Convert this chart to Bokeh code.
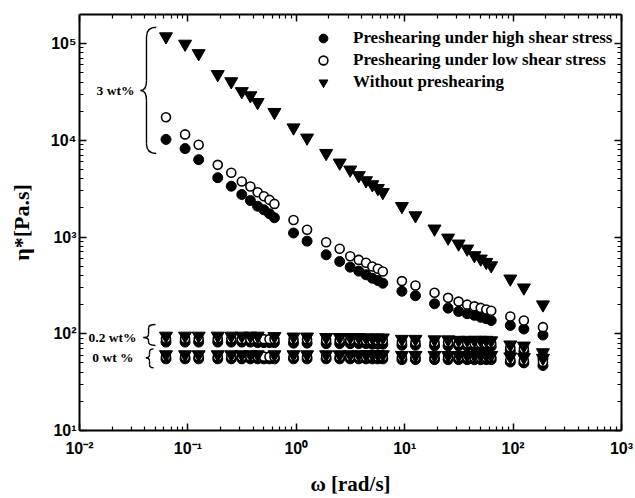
import math
from bokeh.plotting import figure
from bokeh.models import (ColumnDataSource, FixedTicker, LogAxis, CustomJSTickFormatter,
                          Legend, LegendItem, Label)
from bokeh.embed import file_html
from bokeh.resources import INLINE

# ---------------- data ----------------
# angular frequency (rad/s) for circle series
w = [0.0628, 0.0942, 0.1257, 0.1885, 0.2513, 0.3142, 0.3770, 0.4398, 0.5027, 0.5655, 0.6283,
     0.9425, 1.257, 1.885, 2.513, 3.142, 3.770, 4.398, 5.027, 5.655, 6.283,
     9.425, 12.57, 18.85, 25.13, 31.42, 37.70, 43.98, 50.27, 56.55, 62.83,
     94.25, 125.7, 188.5]
# angular frequency for triangle series (two points missing in first decade)
w_tri = [0.0628, 0.0942, 0.1257, 0.1885, 0.2513, 0.3142, 0.3770, 0.4398, 0.6283,
         0.9425, 1.257, 1.885, 2.513, 3.142, 3.770, 4.398, 5.027, 5.655, 6.283,
         9.425, 12.57, 18.85, 25.13, 31.42, 37.70, 43.98, 50.27, 56.55, 62.83,
         94.25, 125.7, 188.5]

# 3 wt%
high_3 = [10200, 8200, 6300, 4100, 3350, 2750, 2380, 2080, 1910, 1740, 1580,
          1100, 906, 655, 558, 488, 444, 407, 375, 355, 333,
          275, 247, 204, 184, 170, 161, 155, 148, 143, 137,
          122, 112, 97]
low_3 = [17300, 11500, 9000, 5570, 4610, 3750, 3330, 2900, 2640, 2420, 2200,
         1500, 1190, 883, 755, 633, 580, 541, 495, 469, 440,
         350, 315, 265, 235, 215, 200, 192, 185, 178, 173,
         151, 137, 117]
none_3 = [118000, 99000, 79000, 48000, 40500, 32000, 29000, 24700, 19500,
          13500, 10600, 7350, 5850, 4950, 4330, 3840, 3490, 3190, 2900,
          2080, 1667, 1216, 980, 851, 755, 645, 595, 550, 507,
          370, 299, 200]

# 0.2 wt%
high_02 = [82, 82, 82, 82, 82, 82, 82, 81, 81, 81, 81,
           80, 80, 79, 79, 79, 79, 79, 78, 78, 78,
           76, 76, 75, 75, 75, 74, 74, 74, 74, 74,
           67, 65, 55]
low_02 = [89, 89, 89, 89, 89, 88, 88, 88, 88, 88, 88,
          87, 87, 86, 86, 86, 86, 85, 85, 85, 85,
          82, 82, 81, 81, 80, 80, 80, 80, 80, 80,
          72, 70, 59]
none_02 = [95, 95, 95, 95, 95, 95, 95, 95, 94,
           93, 93, 92, 92, 92, 92, 91, 91, 91, 91,
           88, 88, 87, 87, 86, 86, 86, 86, 86, 85,
           77, 75, 64]

# 0 wt%
high_0 = [55, 55, 55, 55, 55, 55, 55, 55, 55, 55, 55,
          55, 55, 55, 55, 55, 55, 55, 55, 55, 55,
          54, 54, 54, 54, 54, 54, 54, 54, 54, 54,
          51, 50, 47]
low_0 = [58, 58, 58, 58, 58, 58, 58, 58, 58, 58, 58,
         58, 58, 58, 58, 58, 58, 58, 58, 58, 58,
         57, 57, 57, 57, 57, 57, 57, 57, 57, 57,
         54, 53, 51]
none_0 = [61, 61, 61, 61, 61, 61, 61, 61, 61,
          61, 61, 61, 61, 61, 61, 61, 61, 61, 61,
          60, 60, 60, 60, 60, 60, 60, 60, 60, 60,
          58, 57, 56]

series_labels = ["Preshearing under high shear stress",
                 "Preshearing under low shear stress",
                 "Without preshearing"]
conc_labels = ["3 wt%", "0.2 wt%", "0 wt %"]
x_title = "ω [rad/s]"
y_title = "η*[Pa.s]"

x_major = [1e-2, 1e-1, 1e0, 1e1, 1e2, 1e3]
y_major = [1e1, 1e2, 1e3, 1e4, 1e5]

# ---------------- figure ----------------
SERIF = "Liberation Serif"
SANS = "Liberation Sans"

p = figure(width=635, height=498, x_axis_type="log", y_axis_type="log",
           x_range=(1e-2, 1e3), y_range=(1e1, 1.995e5),
           output_backend="svg", toolbar_location=None,
           min_border_left=79, min_border_right=14, min_border_top=14, min_border_bottom=68)
p.xgrid.visible = False
p.ygrid.visible = False
p.outline_line_color = None
p.background_fill_color = "white"
p.border_fill_color = "white"

x_minor = [m * 10 ** e for e in range(-2, 3) for m in range(2, 10)]
y_minor = [m * 10 ** e for e in range(1, 6) for m in range(2, 10) if m * 10 ** e < 2e5]

sup_code = """
const sup = {'-':'\u207b','0':'\u2070','1':'\u00b9','2':'\u00b2','3':'\u00b3','4':'\u2074',
             '5':'\u2075','6':'\u2076','7':'\u2077','8':'\u2078','9':'\u2079'};
const e = Math.round(Math.log10(tick));
return '10' + String(e).split('').map(c => sup[c]).join('');
"""
blank = CustomJSTickFormatter(code="return '';")


def style_axis(ax, ticks, minor, labels=True):
    ax.ticker = FixedTicker(ticks=ticks, minor_ticks=minor)
    ax.axis_line_width = 2
    ax.axis_line_color = "black"
    ax.major_tick_in = 7
    ax.major_tick_out = 0
    ax.minor_tick_in = 4
    ax.minor_tick_out = 0
    ax.major_tick_line_width = 1.5
    ax.minor_tick_line_width = 1.2
    ax.major_tick_line_color = "black"
    ax.minor_tick_line_color = "black"
    if labels:
        ax.formatter = CustomJSTickFormatter(code=sup_code)
        ax.major_label_text_font = SANS
        ax.major_label_text_font_style = "bold"
        ax.major_label_text_font_size = "16px"
        ax.major_label_text_color = "black"
        ax.axis_label_text_font = SERIF
        ax.axis_label_text_font_style = "bold"
        ax.axis_label_text_color = "black"
    else:
        ax.formatter = blank
        ax.major_label_text_font_size = "0px"
        ax.major_label_standoff = 0


style_axis(p.xaxis[0], x_major, x_minor)
style_axis(p.yaxis[0], y_major, y_minor)
p.xaxis[0].major_label_standoff = 9
p.yaxis[0].major_label_standoff = 3
p.xaxis[0].axis_label = x_title
p.xaxis[0].axis_label_text_font_size = "21px"
p.xaxis[0].axis_label_standoff = 12
p.yaxis[0].axis_label = y_title
p.yaxis[0].axis_label_text_font_size = "22px"
p.yaxis[0].axis_label_standoff = 14

top_ax = LogAxis()
style_axis(top_ax, x_major, x_minor, labels=False)
p.add_layout(top_ax, "above")
right_ax = LogAxis()
style_axis(right_ax, y_major, y_minor, labels=False)
p.add_layout(right_ax, "right")

# ---------------- markers ----------------
src_high = ColumnDataSource(dict(x=w * 3, y=high_3 + high_02 + high_0))
src_low = ColumnDataSource(dict(x=w * 3, y=low_3 + low_02 + low_0))
src_none = ColumnDataSource(dict(x=w_tri * 3, y=none_3 + none_02 + none_0))

r_high = p.scatter("x", "y", source=src_high, marker="circle", size=10,
                   fill_color="black", line_color="black", line_width=1)
r_low = p.scatter("x", "y", source=src_low, marker="circle", size=9,
                  fill_color="white", line_color="black", line_width=1.6)
r_none = p.scatter("x", "y", source=src_none, marker="inverted_triangle", size=13,
                   fill_color="black", line_color="black", line_width=1)

legend = Legend(items=[LegendItem(label=series_labels[0], renderers=[r_high]),
                       LegendItem(label=series_labels[1], renderers=[r_low]),
                       LegendItem(label=series_labels[2], renderers=[r_none])],
                location=(232, 337), orientation="vertical",
                glyph_width=24, glyph_height=22, label_height=22, label_standoff=18,
                spacing=0, padding=0, margin=0,
                border_line_color=None, background_fill_alpha=0,
                label_text_font=SERIF, label_text_font_style="bold",
                label_text_font_size="17px", label_text_color="black")
p.add_layout(legend)

# ---------------- braces (log10 coordinates) ----------------
# each: x_end, x_bar, x_tip, y_top, y_mid, y_bot, r
braces = [(-1.292, -1.382, -1.437, 5.168, 4.514, 3.863, 0.10),
          (-1.299, -1.363, -1.410, 2.096, 1.961, 1.879, 0.035),
          (-1.317, -1.354, -1.388, 1.844, 1.751, 1.648, 0.035)]
qx0, qy0, qx1, qy1, qcx, qcy = [], [], [], [], [], []
sx0, sy0, sx1, sy1 = [], [], [], []
for xe, xb, xt, yt, ym, yb, r in braces:
    quads = [((xe, yt), (xb, yt - r), (xb, yt)),
             ((xb, ym + r), (xt, ym), (xb, ym)),
             ((xt, ym), (xb, ym - r), (xb, ym)),
             ((xb, yb + r), (xe, yb), (xb, yb))]
    for (a, b), (c, d), (e, f) in quads:
        qx0.append(10 ** a); qy0.append(10 ** b)
        qx1.append(10 ** c); qy1.append(10 ** d)
        qcx.append(10 ** e); qcy.append(10 ** f)
    for ya, yb2 in [(yt - r, ym + r), (ym - r, yb + r)]:
        sx0.append(10 ** xb); sy0.append(10 ** ya)
        sx1.append(10 ** xb); sy1.append(10 ** yb2)

p.quadratic(x0=qx0, y0=qy0, x1=qx1, y1=qy1, cx=qcx, cy=qcy,
            line_color="black", line_width=1.4)
p.segment(x0=sx0, y0=sy0, x1=sx1, y1=sy1, line_color="black", line_width=1.4)

conc_pos = [(0.0321, 3.27e4), (0.0336, 91.0), (0.0315, 56.8)]
for txt, (lx, ly) in zip(conc_labels, conc_pos):
    p.add_layout(Label(x=lx, y=ly, text=txt, text_align="right", text_baseline="middle",
                       text_font=SERIF, text_font_style="bold", text_font_size="13.5px",
                       text_color="black"))

open("out.html", "w").write(file_html(p, INLINE))
